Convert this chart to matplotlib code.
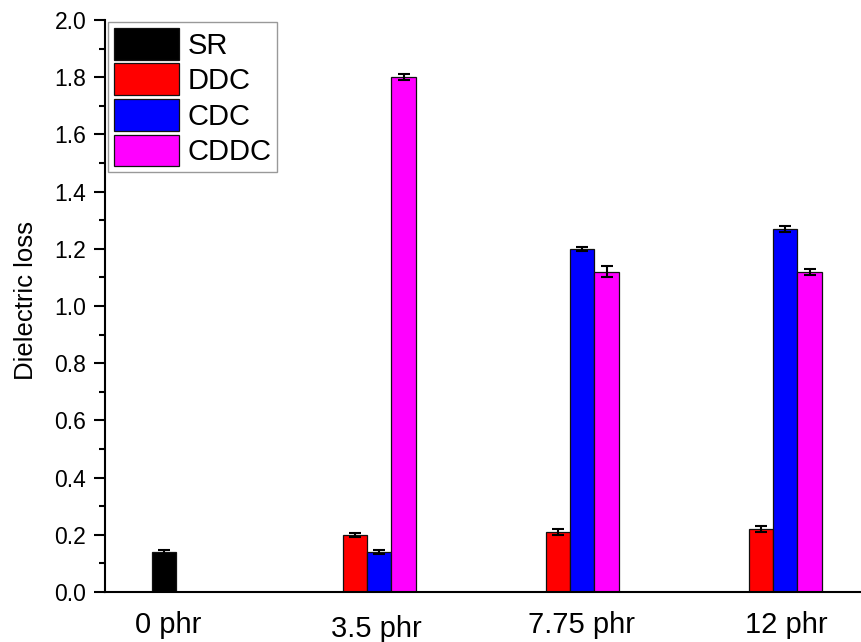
import numpy as np
import matplotlib
matplotlib.use("Agg")
import matplotlib.pyplot as plt
from matplotlib.ticker import MultipleLocator, FormatStrFormatter
from matplotlib.transforms import blended_transform_factory

plt.rcParams['font.family'] = ['Liberation Sans', 'DejaVu Sans']

# Filler loadings (categories)
categories = ['0 phr', '3.5 phr', '7.75 phr', '12 phr']

# Dielectric loss per series (NaN = not measured at that loading)
sr_values = [0.14, np.nan, np.nan, np.nan]
sr_errors = [0.006, np.nan, np.nan, np.nan]
ddc_values = [np.nan, 0.20, 0.21, 0.22]
ddc_errors = [np.nan, 0.007, 0.009, 0.011]
cdc_values = [np.nan, 0.14, 1.20, 1.27]
cdc_errors = [np.nan, 0.007, 0.008, 0.010]
cddc_values = [np.nan, 1.80, 1.12, 1.12]
cddc_errors = [np.nan, 0.010, 0.020, 0.010]

series = [
    ('SR', sr_values, sr_errors, '#000000', 0.0),
    ('DDC', ddc_values, ddc_errors, '#ff0000', -0.5),
    ('CDC', cdc_values, cdc_errors, '#0000ff', 0.5),
    ('CDDC', cddc_values, cddc_errors, '#ff00ff', 1.5),
]

bar_w = 0.12

fig = plt.figure(figsize=(8.62, 6.42), dpi=100)
ax = fig.add_axes([105 / 862, 50 / 642, 757 / 862, 572 / 642])

group_x = np.arange(len(categories))
for name, vals, errs, color, off in series:
    vals = np.asarray(vals, dtype=float)
    errs = np.asarray(errs, dtype=float)
    mask = ~np.isnan(vals)
    xs = group_x[mask] + off * bar_w
    ax.bar(xs, vals[mask], width=bar_w, color=color, edgecolor='#111111',
           linewidth=0.9, label=name, zorder=2)
    ax.errorbar(xs, vals[mask], yerr=errs[mask], fmt='none', ecolor='black',
                elinewidth=1.5, capsize=4.3, capthick=1.5, zorder=3)

ax.set_xlim(-0.2906, 3.438)
ax.set_ylim(0, 2.0)

ax.yaxis.set_major_locator(MultipleLocator(0.2))
ax.yaxis.set_minor_locator(MultipleLocator(0.1))
ax.yaxis.set_major_formatter(FormatStrFormatter('%.1f'))
ax.tick_params(axis='y', which='major', direction='out', length=8, width=1.5,
               labelsize=16.5, pad=5.5)
ax.tick_params(axis='y', which='minor', direction='out', length=4.5, width=1.5)
ax.set_xticks([])

for side in ('top', 'right'):
    ax.spines[side].set_visible(False)
for side in ('left', 'bottom'):
    ax.spines[side].set_linewidth(1.5)

ax.set_ylabel('Dielectric loss', fontsize=18.5)
ax.yaxis.set_label_coords(-0.089, 0.51)

# Category labels under the axis
label_x = [0.02, 1.044, 2.054, 3.064]
label_y = [-0.0717, -0.0787, -0.0717, -0.0717]
trans = blended_transform_factory(ax.transData, ax.transAxes)
for lx, ly, txt in zip(label_x, label_y, categories):
    ax.text(lx, ly, txt, transform=trans, ha='center', va='baseline',
            fontsize=21, clip_on=False)

leg = ax.legend(loc='upper left', bbox_to_anchor=(3 / 757, 1 - 2 / 572),
                fontsize=21, frameon=True, fancybox=False,
                handlelength=2.23, handleheight=1.3, handletextpad=0.3,
                labelspacing=0.13, borderpad=0.2, borderaxespad=0)
leg.get_frame().set_edgecolor('#808080')
leg.get_frame().set_linewidth(1.0)

fig.savefig('out.png', dpi=100)
